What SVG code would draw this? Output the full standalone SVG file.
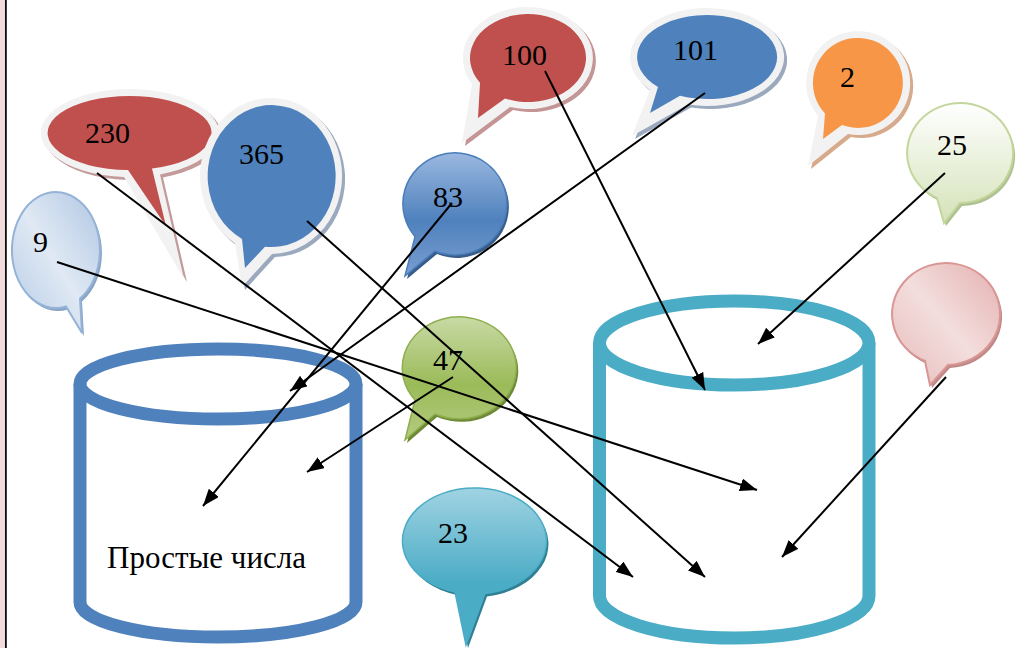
<svg xmlns="http://www.w3.org/2000/svg" width="1018" height="648" viewBox="0 0 1018 648">
  <style>
    .num { font-family: "Liberation Serif", "Times New Roman", serif; font-size: 30px; fill: #000; }
    .label { font-family: "Liberation Serif", "Times New Roman", serif; font-size: 31px; fill: #000; }
    .rim { fill: #F2F2F2; }
    .cyl { fill: #FFFFFF; stroke-width: 13; }
    .link { stroke: #000; stroke-width: 2; fill: none; marker-end: url(#arrow); }
  </style>
  <defs>
    <marker id="arrow" markerUnits="userSpaceOnUse" markerWidth="18" markerHeight="13" refX="17" refY="6.5" orient="auto">
      <path d="M0,0 L17,6.5 L0,13 Z" fill="#000"/>
    </marker>
    <linearGradient id="gBlue" x1="0" y1="0" x2="0" y2="1">
      <stop offset="0" stop-color="#9AB8E0"/>
      <stop offset="0.55" stop-color="#4F81BD"/>
      <stop offset="1" stop-color="#7A9ED0"/>
    </linearGradient>
    <linearGradient id="gGreen" x1="0" y1="0" x2="0" y2="1">
      <stop offset="0" stop-color="#C8DAA5"/>
      <stop offset="0.55" stop-color="#9BBB59"/>
      <stop offset="1" stop-color="#B4CB80"/>
    </linearGradient>
    <linearGradient id="gTeal" x1="0" y1="0" x2="0" y2="1">
      <stop offset="0" stop-color="#A0D3E2"/>
      <stop offset="0.6" stop-color="#4BACC6"/>
      <stop offset="1" stop-color="#4BACC6"/>
    </linearGradient>
    <linearGradient id="gLime" x1="0" y1="0" x2="0" y2="1">
      <stop offset="0" stop-color="#FFFFFF"/>
      <stop offset="1" stop-color="#D4E2B8"/>
    </linearGradient>
    <linearGradient id="gIce" x1="1" y1="0" x2="0" y2="1">
      <stop offset="0" stop-color="#AFC6E3"/>
      <stop offset="0.5" stop-color="#E0E9F4"/>
      <stop offset="1" stop-color="#B3C9E4"/>
    </linearGradient>
    <linearGradient id="gRose" x1="1" y1="0" x2="0" y2="1">
      <stop offset="0" stop-color="#E3B0AF"/>
      <stop offset="0.5" stop-color="#F3DEDD"/>
      <stop offset="1" stop-color="#E6BAB9"/>
    </linearGradient>
  </defs>

  <rect width="1018" height="648" fill="#FFFFFF"/>
  <!-- page margin strip -->
  <rect x="0" y="0" width="5" height="648" fill="#F2DCDB"/>
  <line x1="5.9" y1="0" x2="5.9" y2="648" stroke="#000" stroke-width="1.7"/>

  <!-- storage cylinders -->
  <g id="cyl-primes">
    <path class="cyl" stroke="#4F81BD" d="M80,384 L80,602 A138,35 0 0 0 356,602 L356,384"/>
    <ellipse class="cyl" stroke="#4F81BD" cx="218" cy="384" rx="138" ry="35"/>
    <text class="label" x="107" y="568">Простые числа</text>
  </g>
  <g id="cyl-other">
    <path class="cyl" stroke="#4BACC6" d="M599.5,343 L599.5,596 A134.75,42 0 0 0 869,596 L869,343"/>
    <ellipse class="cyl" stroke="#4BACC6" cx="734.25" cy="343" rx="134.75" ry="42"/>
  </g>

  <!-- solid callouts with light rim -->
  <g id="n230">
    <path fill="#C49A9A" transform="translate(3,3)" d="M160,174.4 A89,44 0 1 0 124,176.9 L184,279 Z"/>
    <path class="rim" d="M160,174.4 A89,44 0 1 0 124,176.9 L184,279 Z"/>
    <path fill="#C0504D" d="M152,168.6 A82,37 0 1 0 128,170 L166,226 Z"/>
    <text class="num" x="85" y="143">230</text>
  </g>
  <g id="n365">
    <path fill="#9AA9BE" transform="translate(3,3)" d="M272,254 A71,78 0 1 0 235,243.2 L242,287 Z"/>
    <path class="rim" d="M272,254 A71,78 0 1 0 235,243.2 L242,287 Z"/>
    <path fill="#4F81BD" d="M265,246.7 A64,71 0 1 0 242,239 L245,268 Z"/>
    <text class="num" x="239" y="164">365</text>
  </g>
  <g id="n100">
    <path fill="#C49595" transform="translate(3,3)" d="M510,107 A65,51 0 1 0 472,84 L462,143 Z"/>
    <path class="rim" d="M510,107 A65,51 0 1 0 472,84 L462,143 Z"/>
    <path fill="#C0504D" d="M505,98.4 A58,44 0 1 0 480,82.7 L478,118 Z"/>
    <text class="num" x="502" y="65">100</text>
  </g>
  <g id="n101">
    <path fill="#9AA9BE" transform="translate(3,3)" d="M688,104.5 A77,49 0 1 0 650,89.9 L632,136 Z"/>
    <path class="rim" d="M688,104.5 A77,49 0 1 0 650,89.9 L632,136 Z"/>
    <path fill="#4F81BD" d="M680,95.8 A70,42 0 1 0 658,87 L650,113 Z"/>
    <text class="num" x="673" y="60">101</text>
  </g>
  <g id="n2">
    <path fill="#D6AA8A" transform="translate(3,3)" d="M848,134 A52,52 0 1 0 818,116 L808,166 Z"/>
    <path class="rim" d="M848,134 A52,52 0 1 0 818,116 L808,166 Z"/>
    <path fill="#F79646" d="M842,125 A45,45 0 1 0 825,113.6 L823,139 Z"/>
    <text class="num" x="840" y="87">2</text>
  </g>

  <!-- gradient callouts -->
  <g id="n83">
    <path fill="#385D8A" transform="translate(2,3)" d="M435,251 A52,51 0 1 0 415,236.6 L405,276 Z"/>
    <path fill="url(#gBlue)" stroke="#4A7EBB" stroke-width="1.5" d="M435,251 A52,51 0 1 0 415,236.6 L405,276 Z"/>
    <text class="num" x="433" y="207">83</text>
  </g>
  <g id="n25">
    <path fill="#AFC192" transform="translate(2,3)" d="M960,203 A53,50 0 1 0 937,198 L944,223 Z"/>
    <path fill="url(#gLime)" stroke="#C3D69B" stroke-width="2" d="M960,203 A53,50 0 1 0 937,198 L944,223 Z"/>
    <text class="num" x="937" y="155">25</text>
  </g>
  <g id="n-blank">
    <path fill="#C08A88" transform="translate(2,3)" d="M948,365 A54,51 0 1 0 925,361 L930,385 Z"/>
    <path fill="url(#gRose)" stroke="#D99694" stroke-width="2" d="M948,365 A54,51 0 1 0 925,361 L930,385 Z"/>
  </g>
  <g id="n9">
    <path fill="#8AA4C6" transform="translate(2,3)" d="M80,298.6 A44,58 0 1 0 66,306.5 L82,333 Z"/>
    <path fill="url(#gIce)" stroke="#95B3D7" stroke-width="2" d="M80,298.6 A44,58 0 1 0 66,306.5 L82,333 Z"/>
    <text class="num" x="33" y="252">9</text>
  </g>
  <g id="n47">
    <path fill="#6E8A36" transform="translate(2,3)" d="M435,414 A57,51 0 1 0 415,400 L405,440 Z"/>
    <path fill="url(#gGreen)" stroke="#8DAF4E" stroke-width="1.5" d="M435,414 A57,51 0 1 0 415,400 L405,440 Z"/>
    <text class="num" x="433" y="370">47</text>
  </g>
  <g id="n23">
    <path fill="#2F7F95" transform="translate(2,3)" d="M485,593.4 A72,53 0 1 0 455,592 L466,645 Z"/>
    <path fill="url(#gTeal)" stroke="#4BACC6" stroke-width="1.5" d="M485,593.4 A72,53 0 1 0 455,592 L466,645 Z"/>
    <text class="num" x="438" y="543">23</text>
  </g>

  <!-- arrows from numbers to containers -->
  <g id="links">
    <line class="link" x1="97" y1="173" x2="633" y2="577"/>
    <line class="link" x1="57" y1="262" x2="757" y2="490"/>
    <line class="link" x1="307" y1="221" x2="705" y2="577"/>
    <line class="link" x1="452" y1="203" x2="203" y2="506"/>
    <line class="link" x1="705" y1="93" x2="290" y2="391"/>
    <line class="link" x1="545" y1="71" x2="705" y2="390"/>
    <line class="link" x1="945" y1="173" x2="758" y2="344"/>
    <line class="link" x1="946" y1="377" x2="782" y2="557"/>
    <line class="link" x1="453" y1="377" x2="307" y2="472"/>
  </g>
</svg>
